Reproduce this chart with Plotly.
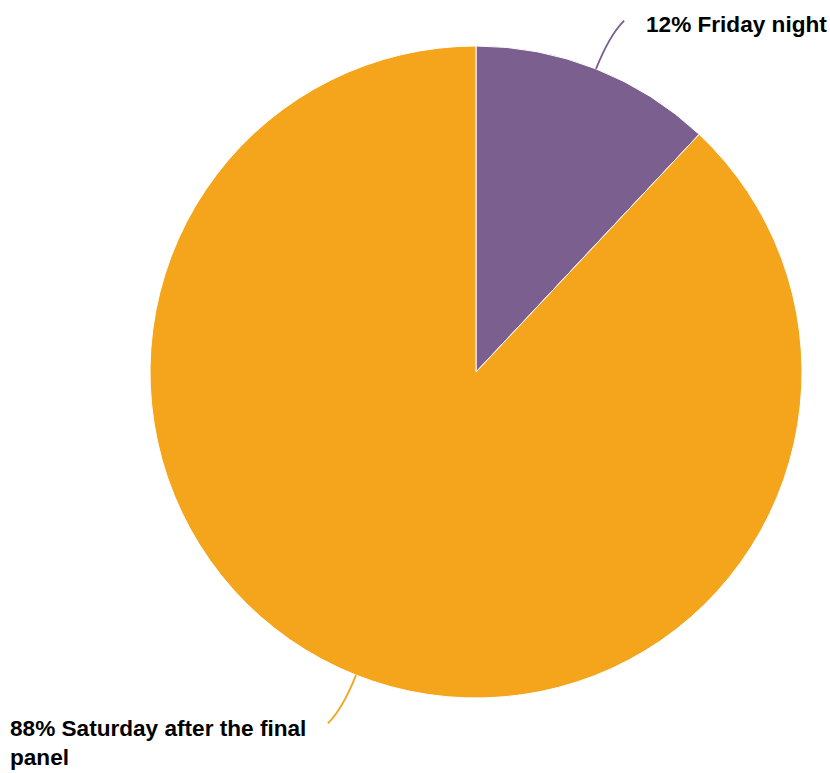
import math
import plotly.graph_objects as go

# ---- data ----
labels = ["Friday night", "Saturday after the final panel"]
label_text = ["12% Friday night", "88% Saturday after the final<br>panel"]
values = [12, 88]
colors = ["#7B5F8E", "#F4A51B"]

# ---- layout constants (pixels) ----
W, H = 830, 773
CX, CY, R = 476, 372, 326

def px(x):
    return x / W

def py(y):
    return 1 - y / H

fig = go.Figure(go.Pie(
    labels=labels,
    values=values,
    sort=False,
    direction="clockwise",
    rotation=0,
    textinfo="none",
    hoverinfo="label+percent",
    marker=dict(colors=colors, line=dict(color="white", width=1)),
    domain=dict(x=[px(CX - R), px(CX + R)], y=[py(CY + R), py(CY - R)]),
    showlegend=False,
))

FONT = dict(family="Liberation Sans, Arial, Helvetica, sans-serif", size=22.6, color="#000000")

shapes = []
annotations = []
total = sum(values)
cum = 0
for i, v in enumerate(values):
    mid = (cum + v / 2) / total * 2 * math.pi
    cum += v
    sx, sy = math.sin(mid), -math.cos(mid)
    side = 1 if sx >= 0 else -1
    x0, y0 = CX + R * sx, CY + R * sy
    x1, y1 = CX + (R + 36) * sx, CY + (R + 36) * sy
    x2, y2 = CX + (R + 52) * sx + 9 * side, CY + (R + 52) * sy
    shapes.append(dict(
        type="path", xref="paper", yref="paper",
        path=f"M {px(x0)},{py(y0)} Q {px(x1)},{py(y1)} {px(x2)},{py(y2)}",
        line=dict(color=colors[i], width=1.8),
    ))
    if side > 0:
        annotations.append(dict(
            x=px(x2 + 20), y=py(y2 + 4), xref="paper", yref="paper",
            xanchor="left", yanchor="middle", align="left",
            text=f"<b>{label_text[i]}</b>", showarrow=False, font=FONT,
        ))
    else:
        annotations.append(dict(
            x=px(x2 - 20), y=py(y2 - 9), xref="paper", yref="paper",
            xanchor="right", yanchor="top", align="left",
            text=f"<b>{label_text[i]}</b>", showarrow=False, font=FONT,
        ))

fig.update_layout(
    width=W, height=H,
    margin=dict(l=0, r=0, t=0, b=0),
    paper_bgcolor="white",
    plot_bgcolor="white",
    shapes=shapes,
    annotations=annotations,
)

fig.write_html("out.html")
